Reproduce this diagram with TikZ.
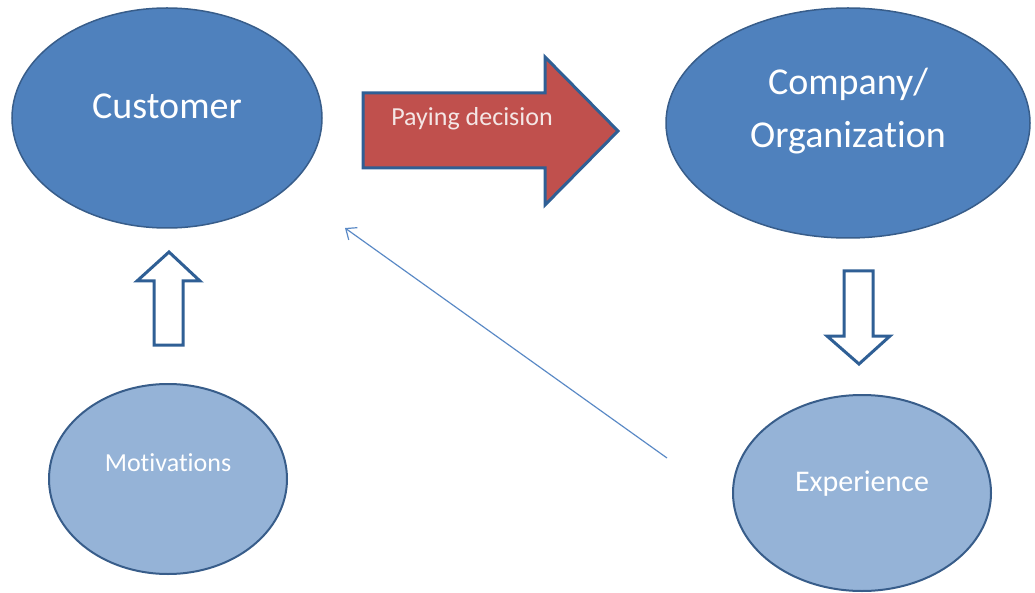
\documentclass[tikz,border=0pt]{standalone}
\usepackage{fontspec}
\setmainfont{Carlito}[Ligatures=NoCommon]
\usetikzlibrary{shapes,positioning,arrows,arrows.meta}
\definecolor{ovalblue}{HTML}{4F81BD}
\definecolor{ovaledge}{HTML}{385D8A}
\definecolor{paleblue}{HTML}{95B3D7}
\definecolor{arredge}{HTML}{2F5F95}
\definecolor{payred}{HTML}{C0504D}
\definecolor{paytext}{HTML}{F4E6E5}
\definecolor{thinblue}{HTML}{5B8AC6}

\begin{document}
\begin{tikzpicture}[x=1pt, y=-1pt,
					bigS/.style={draw=ovaledge, fill=ovalblue, ellipse, line width=1.5pt, inner sep=0pt},
					smallS/.style={draw=ovaledge, fill=paleblue, ellipse, line width=2pt, inner sep=0pt},
					bigT/.style={text=white, font=\fontsize{38}{53}\selectfont, align=center},
					smallT/.style={text=white, font=\fontsize{26}{30}\selectfont},
					blockarr/.style={draw=arredge, line width=3pt, line join=miter},
					thinarr/.style={draw=thinblue, line width=1.2pt},
					>={Straight Barb[length=9pt, width=15pt]}]
	\useasboundingbox (0,0) rectangle (1035,593);

	\node[bigS, minimum width=310pt, minimum height=220pt,
		label={[bigT, yshift=12pt]center:Customer}] (cust) at (167,118) {};
	\node[bigS, minimum width=364pt, minimum height=230pt,
		label={[bigT, yshift=12pt]center:Company/\\Organization}] (comp) at (848,123) {};
	\node[smallS, minimum width=238pt, minimum height=190pt,
		label={[smallT, yshift=16pt]center:Motivations}] (motiv) at (168,479) {};
	\node[smallS, minimum width=258pt, minimum height=196pt,
		label={[smallT, font=\fontsize{30}{34}\selectfont, yshift=9pt]center:Experience}] (exper) at (862,493) {};

	% paying decision block arrow
	\draw[blockarr, fill=payred] (363,93) -- (545,93) -- (545,57) -- (618,131)
		-- (545,205) -- (545,168) -- (363,168) -- cycle;
	\node[text=paytext, font=\fontsize{26}{28}\selectfont] (pay) at (472,119) {Paying decision};

	% hollow arrows
	\draw[blockarr, fill=white] (154,345) -- (154,281) -- (137,281) -- (169,252)
		-- (200,281) -- (183,281) -- (183,345) -- cycle;
	\draw[blockarr, fill=white] (844,271) -- (873,271) -- (873,336) -- (890,336)
		-- (859,364) -- (827,336) -- (844,336) -- cycle;

	\coordinate (fb1) at (667,458);
	\coordinate (fb2) at (345,228);
	\draw[thinarr, ->] (fb1) -- (fb2);
\end{tikzpicture}
\end{document}
